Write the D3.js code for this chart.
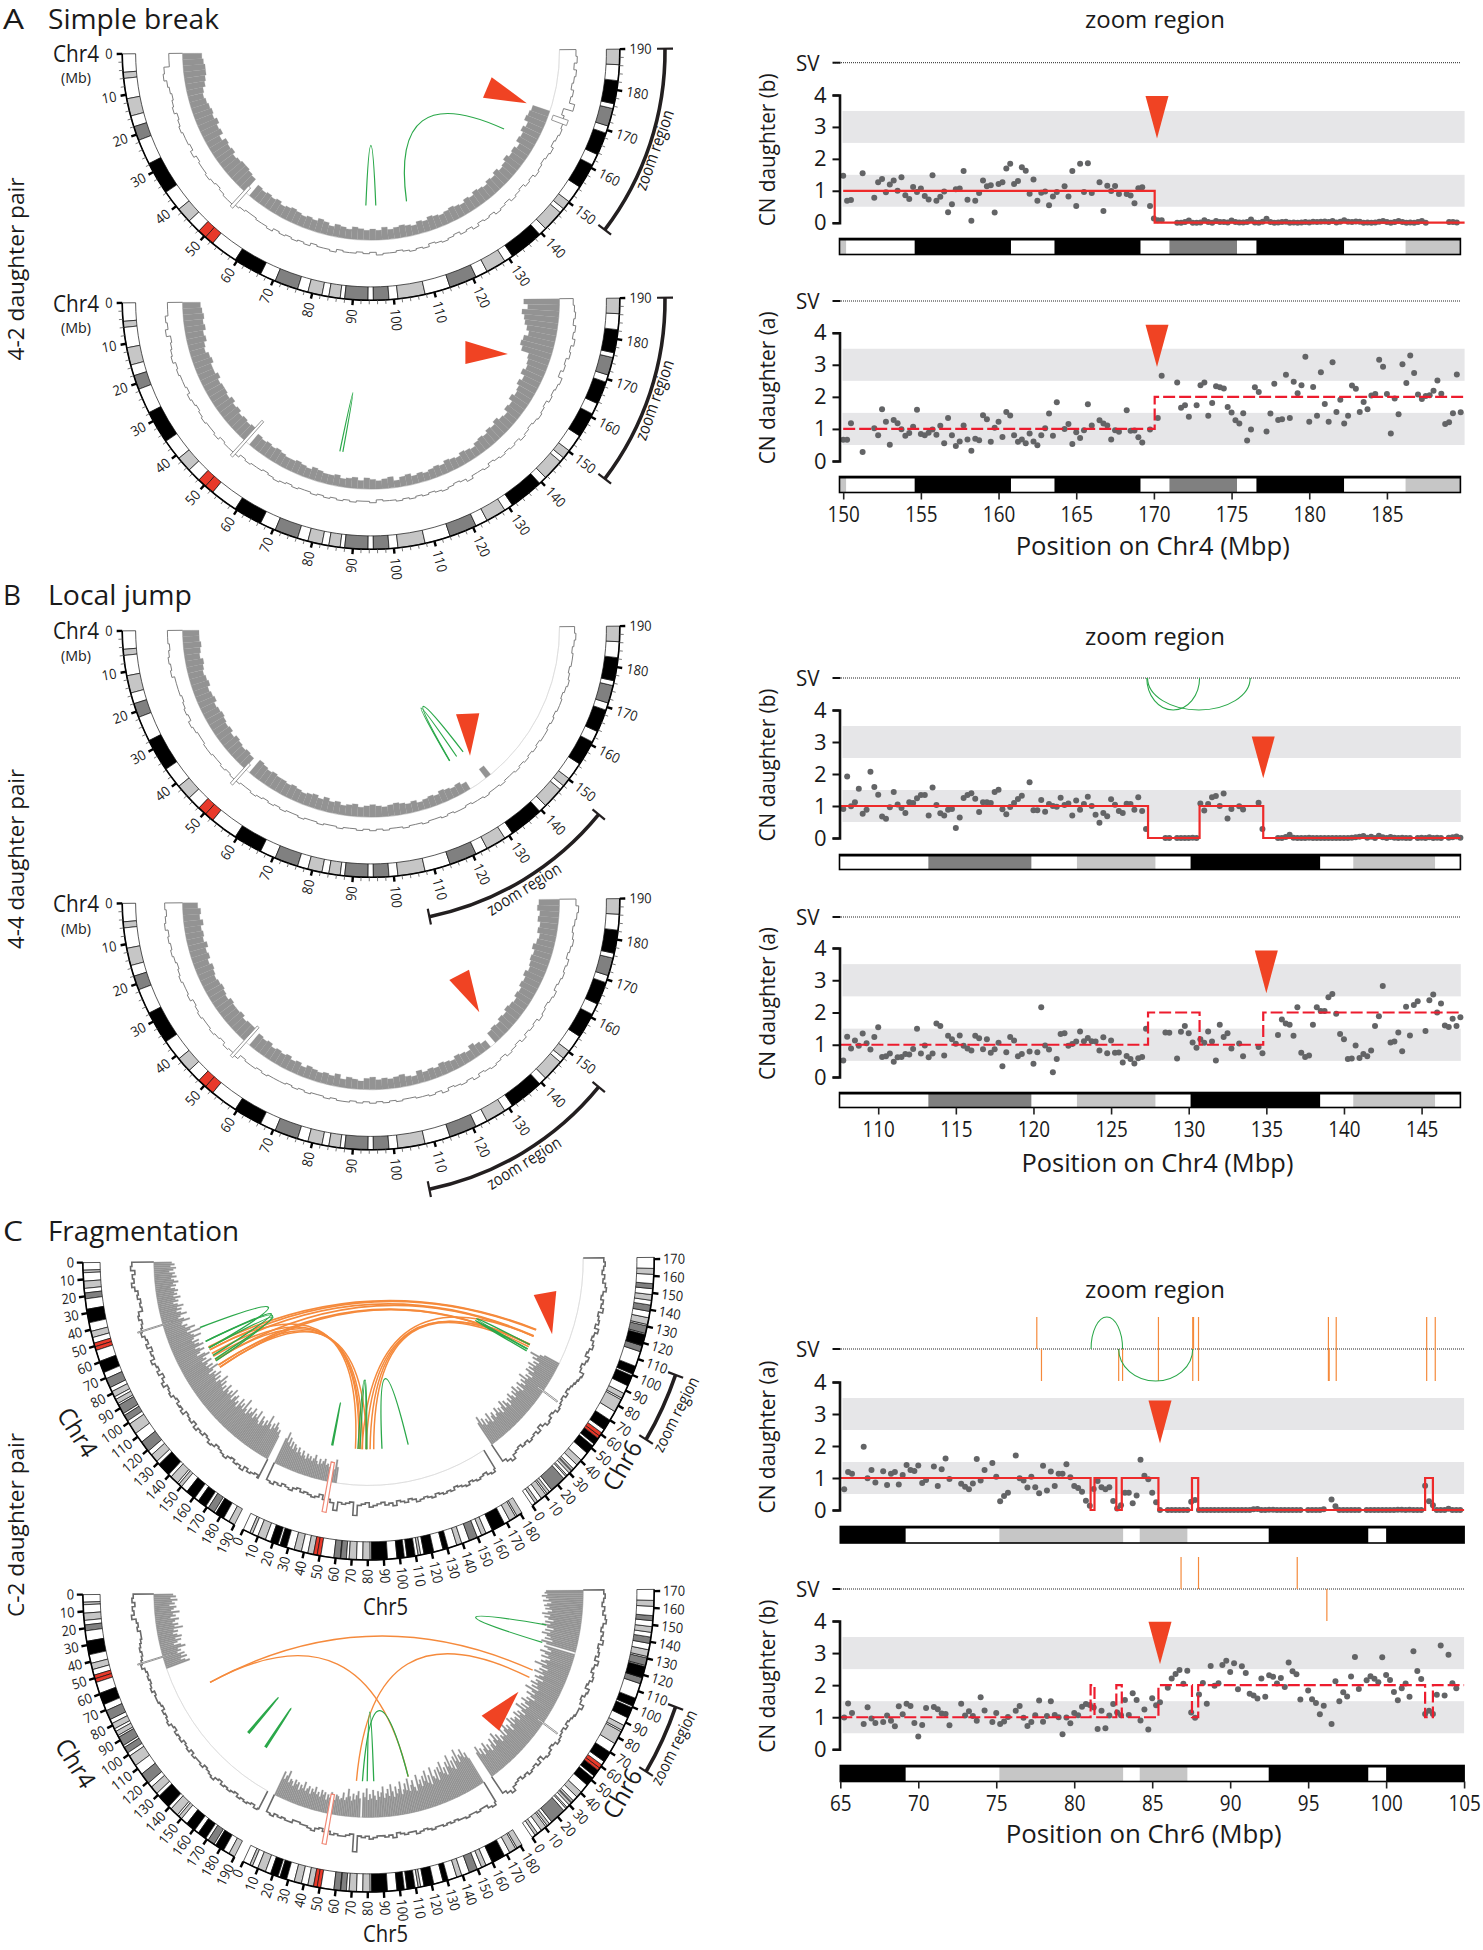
<!DOCTYPE html>
<html><head><meta charset="utf-8">
<script src="https://cdn.jsdelivr.net/npm/d3@7/dist/d3.min.js"></script>
<style>html,body{margin:0;padding:0;background:#fff}svg{display:block}text{font-family:"Open Sans",sans-serif;fill:#1a1a1a}</style>
</head><body><div id="c"></div>
<script>
// ---------- ideogram bands: start Mb, end Mb, stain ----------
const chr4Bands=[[0,4.5,'w'],[4.5,6,'l'],[6,11,'w'],[11,15.3,'l'],[15.3,18,'w'],[18,21.5,'m'],[21.5,27.7,'w'],[27.7,35.8,'k'],[35.8,41,'w'],[41,44.8,'l'],[44.8,48.2,'w'],[48.2,50.4,'r'],[50.4,52.7,'r'],[52.7,59.5,'w'],[59.5,66.6,'k'],[66.6,70.5,'w'],[70.5,76.3,'m'],[76.3,78.9,'w'],[78.9,82.4,'l'],[82.4,84.1,'w'],[84.1,86.9,'l'],[86.9,88,'w'],[88,93.7,'m'],[93.7,95,'w'],[95,98.8,'m'],[98.8,101,'w'],[101,107.7,'l'],[107.7,114,'w'],[114,120.8,'m'],[120.8,123.8,'w'],[123.8,128.8,'l'],[128.8,131,'w'],[131,139.5,'k'],[139.5,141.5,'w'],[141.5,146.8,'l'],[146.8,148,'w'],[148,150.2,'l'],[150.2,154.6,'w'],[154.6,160.8,'k'],[160.8,163.6,'w'],[163.6,169.2,'k'],[169.2,171,'w'],[171,175.4,'m'],[175.4,176.6,'w'],[176.6,182.3,'k'],[182.3,186.2,'w'],[186.2,190,'l']];
const chr5Bands=[[0,4.5,'w'],[4.5,6.3,'l'],[6.3,9.8,'w'],[9.8,15,'l'],[15,18.4,'w'],[18.4,23.3,'k'],[23.3,24.6,'w'],[24.6,28.9,'k'],[28.9,33.8,'w'],[33.8,38.4,'l'],[38.4,42.5,'w'],[42.5,46.1,'l'],[46.1,48.4,'r'],[48.4,50.7,'r'],[50.7,58.9,'w'],[58.9,62.9,'m'],[62.9,63.2,'w'],[63.2,66.7,'m'],[66.7,68.4,'w'],[68.4,73,'l'],[73,76.9,'w'],[76.9,81.5,'l'],[81.5,82.4,'w'],[82.4,92.3,'k'],[92.3,98.2,'w'],[98.2,102.8,'k'],[102.8,104.5,'w'],[104.5,109.6,'k'],[109.6,111.5,'w'],[111.5,113.1,'l'],[113.1,115.2,'w'],[115.2,121.4,'k'],[121.4,127.3,'w'],[127.3,130.6,'k'],[130.6,136.2,'w'],[136.2,139.5,'l'],[139.5,144.5,'w'],[144.5,149.8,'m'],[149.8,152.7,'w'],[152.7,155.7,'l'],[155.7,159.9,'w'],[159.9,168.5,'k'],[168.5,172.2,'w'],[172.2,176.5,'l'],[176.5,177.5,'w'],[177.5,181,'l']];
const chr6Bands=[[0,2.3,'w'],[2.3,4.2,'l'],[4.2,7.1,'w'],[7.1,10.6,'l'],[10.6,11.6,'w'],[11.6,13.4,'l'],[13.4,15.2,'w'],[15.2,25.2,'m'],[25.2,27,'w'],[27,28,'l'],[28,29.9,'w'],[29.9,31.6,'l'],[31.6,32.1,'w'],[32.1,33.5,'l'],[33.5,36.6,'w'],[36.6,40.5,'l'],[40.5,46,'w'],[46,51.5,'k'],[51.5,52.9,'w'],[52.9,57,'k'],[57,58.7,'r'],[58.7,61,'r'],[61,63.4,'w'],[63.4,70,'k'],[70,75.9,'w'],[75.9,83.9,'l'],[83.9,84.9,'w'],[84.9,88,'l'],[88,93.1,'w'],[93.1,99.5,'k'],[99.5,100.6,'w'],[100.6,105.5,'k'],[105.5,114.6,'w'],[114.6,118.3,'m'],[118.3,118.4,'w'],[118.4,125.1,'k'],[125.1,125.8,'w'],[125.8,130.3,'m'],[130.3,131.2,'w'],[131.2,135.2,'l'],[135.2,139,'w'],[139,142.8,'m'],[142.8,145.6,'w'],[145.6,149,'l'],[149,152.5,'w'],[152.5,155.5,'m'],[155.5,161,'w'],[161,164.5,'l'],[164.5,171,'w']];
const stripA=[[149.75,150.2,'l'],[150.2,154.6,'w'],[154.6,160.8,'k'],[160.8,163.6,'w'],[163.6,169.15,'k'],[169.15,171,'w'],[171,175.35,'m'],[175.35,176.6,'w'],[176.6,182.25,'k'],[182.25,186.2,'w'],[186.2,189.75,'l']];
const stripB=[[107.5,113.23,'w'],[113.23,119.88,'m'],[119.88,122.8,'w'],[122.8,127.87,'l'],[127.87,130.12,'w'],[130.12,138.48,'k'],[138.48,140.6,'w'],[140.6,145.88,'l'],[145.88,147.5,'w']];
const stripC=[[65,69.2,'k'],[69.2,75.2,'w'],[75.2,83.15,'l'],[83.15,84.2,'w'],[84.2,87.27,'l'],[87.27,92.47,'w'],[92.47,98.87,'k'],[98.87,100,'w'],[100,105,'k']];

// ---------- copy-number dots, one value per 0.25 Mb bin ----------
const cnA1=[1.47,.69,.71,null,null,1.55,null,null,.78,1.27,1.37,.95,1.2,1.32,1.0,1.42,.86,.74,1.12,.96,1.07,.84,.73,1.49,.69,.81,.98,.33,.58,1.05,1.07,1.62,.72,.06,.69,.93,1.32,1.14,1.17,.32,1.21,1.27,1.7,1.85,1.21,1.31,1.74,1.63,.91,1.35,.69,.94,.98,.55,.82,.96,null,1.14,.82,1.62,.52,1.85,.96,1.86,.93,null,1.27,.37,1.16,.99,1.15,.9,null,.9,.85,.61,1.08,1.11,null,.52,.13,.08,.08,null,null,null,0,0,.02,.07,0,0,.01,.08,.02,0,.05,.02,.02,.01,.07,.02,.01,.01,.02,.1,.01,0,.03,.12,.02,0,.01,.02,.03,0,.01,0,.01,.02,.01,.03,.02,.03,.04,.02,.05,.01,.03,.08,.03,.02,.04,.03,0,.01,0,.01,.03,.05,.02,0,.02,.05,.02,0,.01,0,.02,.05,0,null,null,null,null,null,.02,.02,.01];
const cnA2=[.66,.66,1.18,null,null,.28,null,null,1.02,.8,1.61,1.22,.51,1.28,1.18,.99,.79,.87,1.07,1.6,.84,.8,.88,.98,.82,1.1,.55,1.34,.8,.47,.61,1.11,.67,.32,.69,.65,1.43,1.3,.6,1.04,1.22,.75,1.53,1.42,.8,.6,.67,.55,.86,.61,.49,.8,1.02,1.48,.79,1.83,null,1.0,1.15,.53,.9,.72,.96,1.77,1.11,null,1.27,1.17,1.11,.67,.96,.91,null,1.58,.94,.95,.74,.58,null,.98,null,1.34,2.66,null,null,null,2.45,1.66,1.74,1.38,null,1.74,2.36,2.45,1.41,1.81,2.33,2.3,2.26,1.68,1.51,1.27,1.17,1.49,.64,.98,2.3,2.15,null,.92,1.48,2.41,1.28,1.3,2.69,1.34,2.47,2.11,2.36,3.25,1.22,2.31,1.41,2.77,1.78,1.22,3.08,1.53,1.91,1.17,1.41,2.35,2.25,1.53,1.84,1.61,2.04,2.09,3.16,2.94,2.09,.86,1.95,1.46,3.02,2.43,3.29,2.74,2.07,1.93,2.03,2.05,2.19,2.51,2.1,1.15,1.21,1.49,2.7,1.52];
const cnB1=[.91,1.92,.99,1.12,1.54,.76,.88,2.07,1.59,1.35,.67,.6,.96,1.44,1.05,.94,.78,1.12,1.09,1.24,1.34,1.34,.7,1.58,1.03,.77,.7,.88,.91,.31,.64,1.25,1.34,1.4,1.23,.81,1.12,1.12,1.09,1.44,1.51,.9,.74,.97,1.09,1.22,1.32,null,1.74,.87,.87,1.19,.82,1.06,1.0,.98,1.26,1.03,1.08,.7,1.17,.88,1.06,1.29,1.0,.73,.48,.78,.68,1.21,1.04,.84,.78,1.07,1.06,.88,1.27,.84,.28,null,null,null,null,0,0,null,0,0,0,0,.01,0,1.08,.86,1.06,1.27,1.31,1.0,1.39,.61,.91,null,.99,.89,null,null,null,1.1,.28,null,null,null,0,0,.03,.1,.01,0,0,0,.01,0,0,0,0,0,0,0,0,0,0,.01,.02,.04,.06,.01,.04,0,.07,.02,0,.03,.01,0,.01,0,0,null,0,.01,0,.02,0,.01,0,null,.01,.02,.05,.01];
const cnB2=[.51,1.25,.88,1.13,.97,1.35,1.05,.85,1.24,1.54,.62,.64,.73,.47,.61,.62,.71,.7,.87,1.5,.73,.98,.61,.73,1.66,1.58,.67,1.28,1.17,1.03,1.29,.97,.88,.82,1.28,1.2,.86,1.17,.75,.86,1.06,.33,.77,1.24,1.13,.64,.71,null,.79,.41,.77,2.16,.98,.85,.15,.56,1.33,1.36,.97,1.02,1.1,1.41,1.11,1.21,1.11,1.1,.82,1.23,.74,1.13,.75,.76,.45,.65,.56,.42,.58,.62,1.5,null,null,null,null,1.38,1.37,null,.57,1.4,1.58,1.36,1.07,.91,1.17,1.06,1.41,1.1,.51,1.62,1.24,1.36,.88,null,1.04,.64,null,null,null,.93,.74,null,null,null,1.3,1.78,1.66,1.62,1.28,2.16,.75,.62,.67,1.62,2.16,2.05,2.05,2.47,2.57,1.96,1.33,1.17,.56,.57,.98,.59,.71,.64,.82,1.58,1.88,2.82,null,1.07,1.1,1.38,.8,2.18,1.29,2.23,2.35,null,1.43,2.38,2.56,2.0,2.28,1.6,1.55,1.81,1.58,1.85];
const cnC1=[null,.65,1.19,1.13,null,null,1.98,.99,1.25,.86,null,1.21,.78,1.13,1.19,.8,1.09,1.41,1.25,1.22,1.39,.84,.94,null,1.36,.75,1.27,1.61,.97,null,null,.82,.73,.65,.83,1.59,.92,1.25,null,1.47,1.04,.27,.44,.54,null,1.7,.99,.92,.7,1.04,.71,.52,1.38,.61,1.2,.75,1.13,1.13,1.43,1.02,.75,.69,.57,.29,.13,.66,.91,.71,.65,.71,.28,.05,.15,.54,.54,.21,.45,1.57,1.07,.96,.54,.24,0,null,0,0,0,0,0,0,.26,.31,0,0,0,0,0,0,0,0,0,0,0,0,0,0,.02,.03,0,0,.01,.01,0,0,0,0,0,0,0,null,0,0,0,0,.02,null,.33,.12,0,0,0,0,0,0,null,0,0,0,0,0,0,0,0,.01,.01,0,.01,0,0,0,.76,.27,.15,0,0,0,.04,0,0,0];
const cnC2=[null,.99,1.43,1.13,null,null,.79,1.31,.96,.82,null,.85,1.05,.89,.72,1.34,1.09,1.42,1.35,.82,.4,.76,1.29,null,1.32,1.25,1.12,1.1,.75,null,null,1.42,1.05,1.19,1.04,.89,1.62,1.21,null,.85,1.13,.79,.87,1.01,null,1.2,1.35,.98,.73,.85,1.06,1.52,.86,1.04,1.5,1.07,1.0,.47,.99,.81,1.13,1.06,1.33,1.41,1.38,1.3,.63,1.2,.66,1.05,1.41,1.15,1.06,1.54,1.07,1.75,1.54,.9,1.24,.62,1.59,1.37,1.47,null,1.92,2.21,2.35,2.47,2.04,2.45,1.15,.98,1.71,2.07,1.42,2.6,1.98,2.06,2.63,2.76,2.41,2.68,1.87,2.59,2.38,1.73,1.68,1.58,2.21,1.64,2.31,2.26,2.05,2.22,1.94,2.71,2.43,2.34,1.55,null,1.83,1.56,1.44,1.09,1.36,null,.79,2.12,1.5,1.78,1.65,2.27,2.88,1.88,null,2.15,2.28,2.2,2.09,2.87,2.32,2.16,1.79,1.53,1.9,2.05,1.64,3.06,2.44,2.19,1.1,1.2,1.1,1.7,3.24,1.68,2.95,2.06,1.9];

// ---------- segmented copy number: breakpoints and levels ----------
const breaksA=[150,170.05,190.5], levelsA1=[1,0], levelsA2=[1,2];
const breaksB=[107.5,127.38,130.7,134.8,147.5], levelsB1=[1,0,1,0], levelsB2=[1,2,1,2];
const breaksC=[65,81.05,81.3,82.7,83.05,85.4,87.55,87.95,102.5,103,105], levelsC1=[1,0,1,0,1,0,1,0,1,0], levelsC2=[1,2,1,2,1,2,1,2,1,2];

// ---------- structural variants in the zoom strips ----------
const svC1Up=[77.6,85.4,87.6,87.65,87.97,96.3,96.8,102.6,103.15];
const svC1Down=[77.9,82.85,83.1,85.4,87.6,87.97,96.3,96.35,96.8,102.6,103.15];
const svC2Up=[86.85,87.97,94.3], svC2Down=[96.2];
const arcsC1Up=[[81.08,83.1]], arcsC1Down=[[82.85,87.6]], arcsB1Down=[[127.3,130.7],[127.35,133.96]];

// ---------- circular tracks: per-bin lengths ----------
const A1H=[14,15,16,16,15,14,12,11,12,13,14,13,15,13,14,11,14,13,14,12,13,14,14,13,12,0,10,9,10,9,10,8,9,10,9,8,9,8,10,9,7,9,8,7,9,8,7,8,7,9,7,8,9,8,7,9,8,10,9,8,9,10,9,8,10,9,11,10,9,11,10,12,10,11,13,11,12,10,13,12,14,12,15,14,13];
const A1S=[10,10,14,15,13,12,11,12,13,11,12,13,12,12,11,13,11,12,12,13,12,11,12,13,13,12,11,10,10,11,11,12,10,11,10,11,10,11,9,10,10,11,9,10,10,9,10,9,11,10,10,9,10,11,10,11,9,10,11,10,9,11,10,12,10,11,10,12,11,10,12,11,10,12,11,13,12,11,12,13,11,12,13,12,11,9,16,12,13,11,12,13,11,13,12];
const A2H=[13,14,15,14,15,13,14,12,11,13,14,12,12,14,12,13,13,12,14,12,13,11,12,11,12,0,10,9,10,9,10,9,8,8,9,8,7,9,8,7,7,8,6,7,8,6,8,7,6,7,8,5,7,8,6,7,6,7,8,7,9,8,7,9,8,7,9,10,9,11,10,12,10,9,12,11,14,12,13,15,13,16,14,15,16,22,24,23,20,22,24,25,27,23,26];
const A2S=[11,11,13,12,14,11,12,13,14,12,13,12,12,11,13,12,11,12,13,12,12,13,11,12,12,12,10,11,10,10,9,10,11,10,9,10,9,9,10,9,10,9,10,9,10,9,9,10,8,9,9,10,9,10,9,10,9,10,11,10,9,10,12,10,10,11,9,10,11,10,11,10,12,11,10,11,12,11,10,12,11,12,13,10,12,11,13,12,14,12,13,11,12,11,10];
const B1H=[12,12,13,12,11,13,12,11,12,13,11,12,13,11,12,13,12,11,12,10,12,11,10,11,10,0,12,11,10,11,10,10,9,10,9,8,9,10,8,10,8,9,7,8,9,7,8,9,8,7,8,9,8,7,8,6,7,8,7,9,8,7,8,6,0,0,0,8];
const B1S=[11,11,10,11,12,11,12,10,10,10,9,10,11,10,12,11,10,10,11,11,10,10,11,10,11,11,10,10,11,10,9,10,9,10,9,9,10,9,9,10,9,9,10,9,9,10,9,10,9,10,9,9,10,9,9,10,9,9,10,9,10,10,9,10,10,11,10,10,11,10,10,11,10,11,10,11,10,11,11,10,11,10,11,11,10,11,12,11,10,11,11,10,11,12,11];
const B2H=[11,13,12,14,12,13,12,14,12,13,11,13,12,11,12,13,12,11,13,12,12,13,11,12,12,0,11,10,11,9,10,9,10,8,9,7,9,8,7,8,7,9,6,8,7,6,8,9,7,8,7,8,9,7,6,9,7,8,7,9,8,7,9,8,7,10,8,6,0,9,10,9,11,10,12,11,10,12,11,13,12,14,12,13,14,13,15,13,12,14,13,15,14,16,15];
const B2S=[13,12,13,14,12,13,12,13,12,11,12,13,12,12,13,11,12,13,12,12,13,12,11,13,12,13,10,11,11,10,11,10,10,10,9,10,9,10,9,9,10,9,10,10,9,10,9,10,9,10,9,10,9,9,10,10,11,10,12,10,11,12,11,13,11,12,13,12,11,13,12,11,13,11,12,11,13,12,11,12,13,11,12,13,12,13,11,12,13,12,11,12,13,14,12];

const C1H4=[13,15,12,16,14,11,15,13,16,12,14,17,13,15,11,14,16,13,15,12,17,13,15,11,14,18,13,16,12,15,19,14,12,16,20,14,13,17,15,22,18,15,25,17,19,24,18,16,21,17,20,23,16,19,22,18,15,21,24,18,20,16,23,19,17,22,18,25,20,16,21,19,24,18,22,17,20,26,19,23,18,21,17,24,20,18,22,19,25,17,21,23,18,20,16,24,19,22,18,27,20,17,23,19,21,25,18,22,20,26,19,17,24,21,18,23,20,28,22,19,24,21,26,23,20,22,18];
const C1S4=[16,17,14,16,15,17,15,13,14,12,13,12,15,16,14,15,16,17,15,14,16,13,15,14,17,15,14,16,13,15,17,14,15,16,14,13,15,14,16,13,14,15,13,16,14,15,13,14,16,15,13,14,15,16,14,13,15,14,16,13,15,14,13,15];
const C1H5=[19,24,17,21,15,19,14,18,16,13,17,14,12,16,13,11,15,12,14,11,13,16,12,10,14,11,13,15,11,12,10,14,12,9,16,11];
const C1S5=[13,14,12,13,11,12,13,11,10,12,11,12,13,12,10,13,12,14,19,13,14,13,12,21,14,13,12,15,14,13,12,14,13,15,12,13,14,12,13,15,14,13,14,15,13,14,15,14,15,13,14,15,16,14,15,16,15,14,16,17,15];
const C1H6=[18,22,15,19,13,17,14,20,12,16,18,13,15,19,14,17,12,16,20,13,18,15,12,17,14,19,16,13,18,15,20,14,17,12,19,16,13,18,15,21,14,17,12,16,19,13,18,15,20,14,17,13,19,16,22,15,12];
const C1S6=[14,16,18,15,14,13,15,14,16,15,14,16,13,15,17,16,14,15,17,16,15,14,16,14,15,16,17,18,19,16,15,17,18,15,16,18,17,15,16,18,15,17,16,15,18,16,17,15,16,18,17,15,16,14,15,16,15];
const C2H4=[14,16,12,17,13,15,11,16,14,12,18,13,15,11,17,14,12,16,13,19,12,15,11,14,17,12,16,13,10,15,18,12,14,11,16,13,17,12,15,18];
const C2S4=[15,16,14,16,15,17,14,13,14,12,12,13,14,15,14,15,16,17,15,14,15,14,15,16,14,15,15,14,13,15,14,15,16,14,13,15,14,15,13,14,15,13,15,14,14,15,13,14,15,16,14,13,15,14,15,14,13,15,14,15,14,13,15,14];
const C2H5=[18,13,16,20,12,15,14,11,16,13,15,10,14,12,17,11,13,15,10,14,12,16,11,13,10,15,12,14,9,13,11,15,12,10,14,13,11,12,16,11,13,19,14,11,16,12,15,18,13,0,17,14,20,12,16,13,19,15,12,18,14,17,21,13,16,19,14,22,17,13,20,15,18,23,14,17,21,16,24,15,19,22,17,14,25,18,21,16,23,19,26,17,22,15,27,20,18,24,16,25,21,28,19,23,17,26,22,30,20,25,18,27,23,31,21,26,24,29,22,25,20];
const C2S5=[13,14,12,13,12,13,13,11,11,12,12,13,14,12,11,13,12,14,13,14,14,13,12,24,13,14,13,15,14,13,13,14,13,15,12,13,14,13,13,15,14,13,14,15,14,14,15,14,15,14,15,15,16,15,15,16,15,15,17,18,16];
const C2H6=[20,24,17,21,15,19,23,16,20,14,18,22,15,19,24,17,21,14,18,16,22,15,19,25,17,20,14,18,23,16,21,18,19,15,22,17,20,14,18,24,16,21,15,19,23,17,20,14,18,22,16,19,25,15,21,17,23,18,20,15,22,19,16,24,18,21,15,20,26,17,22,19,16,23,18,21,25,17,20,23,0,22,26,18,24,20,23,27,21,25,19,24,28,22,26,20,24,27,23,29,25,22,27,24,28,26,23,29,25,27,30,26,28,27];
const C2S6=[14,16,18,15,14,13,15,14,16,15,14,16,13,16,17,16,14,15,17,16,15,14,16,14,15,16,17,17,19,16,15,17,18,15,16,18,17,15,16,18,15,17,16,15,18,16,17,15,16,18,17,15,16,14,15,16,15];

// ---------- links between positions ----------
const linksA1=[[92.4,96.3],[108.5,157.5]];
const linksA2=[[82.1,83.3]];
const linksB1=[[126.8,130.1],[126.9,133.2]];
const orangeC146=[[83,103.15],[86,102.6],[90,96.8],[97,96.3],[102.5,87.97],[105,87.6]];
const orangeC145=[[86,67.6],[93,70.7],[97,74.5],[105,78.8],[102.5,72]];
const orangeC156=[[74,96.3],[78,87.97],[82,87.6],[85.6,85.4]];
const greenC14=[[63,84],[77,92],[77,98],[84,96]];
const greenC15a=[[44,45]], greenC15b=[[70,78],[72,78.8],[93.7,119.8]];
const greenC16=[[81.08,83.1],[82.85,87.6]];
const orangeC246=[[86.5,94.3]], orangeC245=[[86.5,119.8]], orangeC256=[[68.6,86.85]];
const greenC24=[[146.5,148],[168,169.5]], greenC25=[[74.5,119.8],[79.2,85.6]], greenC26=[[121.9,138.7]];

// ---------- canvas ----------
const W=1483,H=1950;
const svg=d3.select('#c').append('svg').attr('width',W).attr('height',H).attr('viewBox',`0 0 ${W} ${H}`);
const FILL={w:'#fff',l:'#c6c6c6',m:'#808080',k:'#000',r:'#e8392a'};
const RED='#f04323',ORANGE='#f58a3c',GREEN='#2ba84a';
function txt(x,y,s,o={}){
  const t=svg.append('text').attr('text-anchor',o.anchor||'start').attr('font-size',o.size||14).text(s);
  t.attr('transform',`translate(${x},${y}) rotate(${o.rot||0}) scale(${o.sx||1},1)`);
  if(o.len){t.attr('textLength',o.len).attr('lengthAdjust','spacingAndGlyphs');}
  return t;
}

// ---------- right-hand zoom panels ----------
function panel(p){
  const g=svg.append('g');
  const x=d3.scaleLinear().domain(p.dom).range(p.xr);
  const y=d3.scaleLinear().domain([0,4]).range([p.y0,p.y4]);
  const xEnd=p.bandEnd;
  [[2.5,3.5],[.5,1.5]].forEach(b=>g.append('rect').attr('x',842.5).attr('width',xEnd-842.5).attr('y',y(b[1])).attr('height',y(b[0])-y(b[1])).attr('fill','#e6e6e8'));
  g.append('line').attr('x1',833).attr('x2',p.stx1).attr('y1',p.sv).attr('y2',p.sv).attr('stroke','#222').attr('stroke-width',1).attr('stroke-dasharray','1 1');
  g.append('line').attr('x1',832.5).attr('x2',840.5).attr('y1',p.sv).attr('y2',p.sv).attr('stroke','#111').attr('stroke-width',2);
  txt(819.5,p.sv+8,'SV',{anchor:'end',size:21,sx:.98}).attr('fill','#333');
  (p.up||[]).forEach(v=>g.append('line').attr('x1',x(v)).attr('x2',x(v)).attr('y1',p.sv-32).attr('y2',p.sv).attr('stroke',ORANGE).attr('stroke-width',1.2));
  (p.down||[]).forEach(v=>g.append('line').attr('x1',x(v)).attr('x2',x(v)).attr('y1',p.sv).attr('y2',p.sv+32).attr('stroke',ORANGE).attr('stroke-width',1.2));
  const arc=(a,sw)=>{const x0=x(a[0]),x1=x(a[1]);g.append('path').attr('d',`M${x0},${p.sv}A${(x1-x0)/2},32 0 0 ${sw} ${x1},${p.sv}`).attr('fill','none').attr('stroke',GREEN).attr('stroke-width',1.1);};
  (p.arcUp||[]).forEach(a=>arc(a,1));
  (p.arcDown||[]).forEach(a=>arc(a,0));
  g.append('g').selectAll('circle').data(p.cn.map((v,i)=>({v,i})).filter(d=>d.v!==null)).join('circle')
    .attr('cx',d=>x(p.start+d.i*.25)).attr('cy',d=>y(d.v)).attr('r',3).attr('fill','#636466');
  const pts=[];p.levels.forEach((l,i)=>{pts.push([Math.max(p.breaks[i],p.dom[0]),l]);pts.push([Math.min(p.breaks[i+1],p.dom[1]),l]);});
  const ln=g.append('path').attr('d',d3.line().x(d=>x(d[0])).y(d=>y(d[1]))(pts)).attr('fill','none').attr('stroke',p.dash?'#ed1c2e':'#ee2a2a').attr('stroke-width',2.2);
  if(p.dash)ln.attr('stroke-dasharray','12 4');
  const tip=[x(p.arrow[0]),y(p.arrow[1])],top=y(p.arrow[2]);
  g.append('path').attr('d',`M${tip[0]-11.5},${top}L${tip[0]+11.5},${top}L${tip[0]},${tip[1]}Z`).attr('fill',RED);
  const ya=d3.axisLeft(y).tickValues([0,1,2,3,4]).tickSize(7).tickPadding(6).tickFormat(d3.format('d'));
  const yg=g.append('g').attr('transform','translate(839.5,0)').call(ya);
  yg.select('.domain').attr('stroke','#111').attr('stroke-width',2.6);
  yg.selectAll('.tick line').attr('stroke','#111').attr('stroke-width',2);
  yg.selectAll('text').attr('font-size',22).attr('fill','#333').attr('font-family','"Open Sans",sans-serif');
  txt(775,(p.y0+p.y4)/2-9,p.ylab,{anchor:'middle',size:22,rot:-90,len:153});
  const st=g.append('g');
  p.strip.forEach(b=>st.append('rect').attr('x',x(b[0])).attr('y',p.st0).attr('width',x(b[1])-x(b[0])).attr('height',p.st1-p.st0).attr('fill',FILL[b[2]]));
  st.append('rect').attr('x',p.stx0).attr('y',p.st0).attr('width',p.stx1-p.stx0).attr('height',p.st1-p.st0).attr('fill','none').attr('stroke','#000').attr('stroke-width',1.6);
  st.append('line').attr('x1',p.stx0).attr('x2',p.stx1).attr('y1',p.st0+1).attr('y2',p.st0+1).attr('stroke','#000').attr('stroke-width',2);
  if(p.xt){
    const xa=d3.axisBottom(x).tickValues(p.xt).tickSize(7).tickPadding(8).tickFormat(d3.format('d'));
    const xg=g.append('g').attr('transform',`translate(0,${p.st1})`).call(xa);
    xg.select('.domain').remove();
    xg.selectAll('.tick line').attr('stroke','#222').attr('stroke-width',1.6);
    xg.selectAll('text').attr('font-size',21).attr('fill','#333').attr('font-family','"Open Sans",sans-serif').attr('transform','scale(.9,1)').attr('dy','.71em');
    txt(p.xlx,p.xly,p.xlab,{anchor:'middle',size:26,len:p.xllen});
  }
  if(p.title)txt(1155,p.title,'zoom region',{anchor:'middle',size:24,len:140});
}
const aDom=[150,190],aR=[843.2,1464.6],bDom=[107.5,147.5],bR=[839.4,1460.4],cDom=[65,105],cR=[840.3,1464.1];
panel({dom:aDom,xr:aR,bandEnd:1464.6,y0:222.7,y4:95,sv:62.7,cn:cnA1,start:150,breaks:breaksA,levels:levelsA1,arrow:[170.2,2.64,3.97],ylab:'CN daughter (b)',strip:stripA,st0:238.5,st1:254.5,stx0:839.5,stx1:1460.4,title:28});
panel({dom:aDom,xr:aR,bandEnd:1464.6,y0:461,y4:332.7,sv:301,cn:cnA2,start:150,breaks:breaksA,levels:levelsA2,dash:true,arrow:[170.2,2.93,4.25],ylab:'CN daughter (a)',strip:stripA,st0:476.5,st1:492.5,stx0:839.5,stx1:1460.4,xt:[150,155,160,165,170,175,180,185],xlab:'Position on Chr4 (Mbp)',xlx:1152.7,xly:555,xllen:274});
panel({dom:bDom,xr:bR,bandEnd:1460.8,y0:838,y4:710,sv:678,cn:cnB1,start:107.75,breaks:breaksB,levels:levelsB1,arrow:[134.8,1.87,3.17],ylab:'CN daughter (b)',strip:stripB,st0:854.5,st1:869.5,stx0:839.5,stx1:1460.4,title:645,arcDown:arcsB1Down});
panel({dom:bDom,xr:bR,bandEnd:1460.8,y0:1077,y4:948,sv:917,cn:cnB2,start:107.75,breaks:breaksB,levels:levelsB2,dash:true,arrow:[135,2.6,3.92],ylab:'CN daughter (a)',strip:stripB,st0:1092.5,st1:1107.5,stx0:839.5,stx1:1460.4,xt:[110,115,120,125,130,135,140,145],xlab:'Position on Chr4 (Mbp)',xlx:1157.4,xly:1172,xllen:272});
panel({dom:cDom,xr:cR,bandEnd:1464.1,y0:1510,y4:1382,sv:1349,cn:cnC1,start:65,breaks:breaksC,levels:levelsC1,arrow:[85.5,2.08,3.42],ylab:'CN daughter (a)',strip:stripC,st0:1526.5,st1:1543,stx0:840.3,stx1:1464.1,title:1298,up:svC1Up,down:svC1Down,arcUp:arcsC1Up,arcDown:arcsC1Down});
panel({dom:cDom,xr:cR,bandEnd:1464.1,y0:1749.3,y4:1621,sv:1589,cn:cnC2,start:65,breaks:breaksC,levels:levelsC2,dash:true,arrow:[85.5,2.65,3.98],ylab:'CN daughter (b)',strip:stripC,st0:1765.5,st1:1781.5,stx0:840.3,stx1:1464.1,up:svC2Up,down:svC2Down,xt:[65,70,75,80,85,90,95,100,105],xlab:'Position on Chr6 (Mbp)',xlx:1143.7,xly:1843,xllen:276});

// ---------- circular ideograms ----------
const deg=Math.PI/180, TRK=1.375;
function circos(c){
  const G=svg.append('g').attr('transform',`translate(${c.cx},${c.cy}) scale(1,${c.k})`);
  const pt=(a,r)=>[c.cx+r*Math.sin(a),c.cy-c.k*r*Math.cos(a)];
  c.chrs.forEach(ch=>{
    ch.ang=d3.scaleLinear().domain([0,ch.len]).range([(-90-ch.t0)*deg,(-90-ch.t1)*deg]);
    const A=ch.ang, arc=d3.arc();
    const rH=d3.scaleLinear().domain([0,40]).range([c.rBase,c.rBase-40*TRK]);
    const rS=d3.scaleLinear().domain([0,40]).range([c.rBase,c.rBase+40*TRK]);
    G.append('path').attr('d',arc({innerRadius:c.rBase,outerRadius:c.rBase,startAngle:A(0),endAngle:A(ch.len)})).attr('fill','none').attr('stroke','#d8d8d8').attr('stroke-width',.6).attr('vector-effect','non-scaling-stroke');
    G.append('g').selectAll('path').data(ch.hist.map((v,i)=>({v,i})).filter(d=>d.v>0)).join('path')
      .attr('d',d=>arc({innerRadius:rH(d.v),outerRadius:rH(0),startAngle:A(d.i*ch.hbin),endAngle:A(Math.min((d.i+1)*ch.hbin,ch.len))}))
      .attr('fill','#939393').attr('stroke','#939393').attr('stroke-width',.2).attr('vector-effect','non-scaling-stroke');
    const pts=[[A(0),rS(0)]];
    ch.step.forEach((v,i)=>{pts.push([A(i*ch.bin),rS(v)]);pts.push([A(Math.min((i+1)*ch.bin,ch.len)),rS(v)]);});
    pts.push([A(ch.len),rS(0)]);
    G.append('path').attr('d',d3.lineRadial().angle(d=>d[0]).radius(d=>d[1])(pts)).attr('fill','none').attr('stroke',c.stepCol).attr('stroke-width',c.stepW).attr('vector-effect','non-scaling-stroke');
    G.append('g').selectAll('path').data(ch.bands).join('path')
      .attr('d',b=>arc({innerRadius:c.rIn,outerRadius:c.rOut,startAngle:A(b[0]),endAngle:A(b[1])}))
      .attr('fill',b=>FILL[b[2]]).attr('stroke','#111').attr('stroke-width',.7).attr('vector-effect','non-scaling-stroke');
    G.append('path').attr('d',arc({innerRadius:c.rOut,outerRadius:c.rOut,startAngle:A(0),endAngle:A(ch.len)})).attr('fill','none').attr('stroke','#000').attr('stroke-width',1.6).attr('vector-effect','non-scaling-stroke');
    if(c.minor)d3.range(0,ch.len+.1,c.minor).forEach(v=>{
      const p0=pt(A(v),c.rOut),p1=pt(A(v),c.rOut+4);
      svg.append('line').attr('x1',p0[0]).attr('y1',p0[1]).attr('x2',p1[0]).attr('y2',p1[1]).attr('stroke','#555').attr('stroke-width',.8);
    });
    const T=svg.append('g');
    T.selectAll('line').data(d3.range(0,ch.len+.1,10)).join('line')
      .attr('x1',v=>pt(A(v),c.rOut)[0]).attr('y1',v=>pt(A(v),c.rOut)[1])
      .attr('x2',v=>pt(A(v),c.rOut+c.tick)[0]).attr('y2',v=>pt(A(v),c.rOut+c.tick)[1])
      .attr('stroke','#000').attr('stroke-width',2.4);
    d3.range(0,ch.len+.1,10).forEach(v=>{
      const a=A(v),p=pt(a,c.rLab);
      const dx=Math.sin(a),dy=-c.k*Math.cos(a);
      let rot=Math.atan2(dy,dx)/deg,anchor='start';
      if(dx<0){rot+=180;anchor='end';}
      txt(p[0]-4.8*Math.sin(rot*deg),p[1]+4.8*Math.cos(rot*deg),d3.format('d')(v),{anchor,size:14,rot,sx:.92}).attr('fill','#111');
    });
  });
  const byName=n=>c.chrs.find(h=>h.name===n);
  (c.slits||[]).forEach(s=>{
    const A=byName(s[0]).ang;
    G.append('path').attr('d',d3.arc()({innerRadius:s[2],outerRadius:s[3],startAngle:A(s[1]-s[4]),endAngle:A(s[1]+s[4])})).attr('fill','#fff').attr('stroke',s[5]||'#8a8a8a').attr('stroke-width',s[5]?1.2:.9).attr('vector-effect','non-scaling-stroke');
  });
  (c.links||[]).forEach(L=>{
    const Aa=byName(L.from).ang,Ab=byName(L.to).ang;
    L.data.forEach(d=>{
      const p0=pt(Aa(d[0]),c.rLink),p1=pt(Ab(d[1]),c.rLink);
      const mx=(p0[0]+p1[0])/2,my=(p0[1]+p1[1])/2;
      const qx=mx+(c.cx-mx)*L.f,qy=my+(c.cy-my)*L.f;
      const path=d3.path();path.moveTo(p0[0],p0[1]);path.quadraticCurveTo(qx,qy,p1[0],p1[1]);
      svg.append('path').attr('d',path.toString()).attr('fill','none').attr('stroke',L.col).attr('stroke-width',L.w||1.2);
    });
  });
  svg.append('polygon').attr('points',c.arrow.map(q=>q.join(',')).join(' ')).attr('fill',RED);
  if(c.zoom){
    const z=c.zoom,A=byName(z.chr).ang;
    G.append('path').attr('d',d3.arc()({innerRadius:z.r,outerRadius:z.r,startAngle:A(z.from),endAngle:A(z.to)})).attr('fill','none').attr('stroke','#231f20').attr('stroke-width',3.6).attr('vector-effect','non-scaling-stroke');
    [z.from,z.to].forEach(v=>{
      const p0=pt(A(v),z.r-8),p1=pt(A(v),z.r+8);
      svg.append('line').attr('x1',p0[0]).attr('y1',p0[1]).attr('x2',p1[0]).attr('y2',p1[1]).attr('stroke','#231f20').attr('stroke-width',2.2);
    });
    txt(z.tx,z.ty,'zoom region',{anchor:'middle',size:z.ts||17,rot:z.rot,len:z.len||84});
  }
}
const chr4Only=(h,s)=>[{name:'4',len:190,t0:.55,t1:180.55,bands:chr4Bands,hist:h,step:s,bin:2,hbin:2}];
const base={cx:371,k:1,rIn:235.4,rOut:248.8,rBase:188.5,rLab:258.5,rLink:154,tick:5.5,minor:2,stepCol:'#7e7e7e',stepW:1};
const zoomA={chr:'4',r:294,from:190,to:150,rot:-70};
const zoomB={chr:'4',r:294,from:148,to:106.5,rot:-32};
circos({...base,cy:51.5,chrs:chr4Only(A1H,A1S),slits:[['4',50.2,182,209,.5],['4',168.3,193,209,.8]],
  links:[{from:'4',to:'4',data:linksA1,f:.78,col:GREEN}],arrow:[[491.7,77.3],[483,97.7],[526.8,103.3]],zoom:{...zoomA,tx:660,ty:152}});
circos({...base,cy:300.5,chrs:chr4Only(A2H,A2S),slits:[['4',50.2,162,209,.45]],
  links:[{from:'4',to:'4',data:linksA2,f:.78,col:GREEN}],arrow:[[465.4,341],[465.4,364],[507.9,354]],zoom:{...zoomA,tx:660,ty:402}});
circos({...base,cy:628.5,chrs:chr4Only(B1H,B1S),slits:[['4',50.2,182,209,.45]],
  links:[{from:'4',to:'4',data:linksB1,f:.78,col:GREEN}],arrow:[[456,714.3],[479.3,713.3],[470,755.7]],zoom:{...zoomB,tx:527,ty:894}});
circos({...base,cy:901,chrs:chr4Only(B2H,B2S),slits:[['4',50.2,169,209,.45]],
  arrow:[[469,969.7],[449.3,980],[479.3,1012.3]],zoom:{...zoomB,tx:527,ty:1168}});

const baseC={cx:368.5,k:1.05,rIn:268.4,rOut:285.7,rBase:214.7,rLab:294.5,rLink:180.3,tick:6,minor:0,stepCol:'#6a6a6a',stepW:1.6};
const chrsC=(h4,s4,h5,s5,h6,s6)=>[
 {name:'4',len:190,t0:.5,t1:62,bands:chr4Bands,hist:h4,step:s4,bin:3,hbin:1.5},
 {name:'5',len:181,t0:64,t1:122.5,bands:chr5Bands,hist:h5,step:s5,bin:3,hbin:1.5},
 {name:'6',len:171,t0:125,t1:180.5,bands:chr6Bands,hist:h6,step:s6,bin:3,hbin:1.5}];
const slitsC=[['4',50,205,241,.4],['6',60,208,232,.5],['5',48,196,244,1.5,'#f08a78']];
const zoomC={chr:'6',r:326,from:72,to:109,rot:-63,ts:16.5,len:82};
circos({...baseC,cy:1260,chrs:chrsC(C1H4,C1S4,C1H5,C1S5,C1H6,C1S6),slits:slitsC,
  links:[{from:'4',to:'6',data:orangeC146,f:.95,col:ORANGE,w:1.7},{from:'4',to:'5',data:orangeC145,f:.95,col:ORANGE,w:1.5},{from:'5',to:'6',data:orangeC156,f:.95,col:ORANGE,w:1.5},
   {from:'4',to:'4',data:greenC14,f:.78,col:GREEN,w:1.4},{from:'5',to:'5',data:greenC15a,f:.46,col:GREEN,w:1.4},{from:'5',to:'5',data:greenC15b,f:.73,col:GREEN,w:1.3},{from:'6',to:'6',data:greenC16,f:.65,col:GREEN,w:1.4}],
  arrow:[[533.7,1295],[556.3,1291],[552.1,1334.3]],zoom:{...zoomC,tx:681,ty:1417}});
circos({...baseC,cy:1592,chrs:chrsC(C2H4,C2S4,C2H5,C2S5,C2H6,C2S6),slits:slitsC,
  links:[{from:'4',to:'6',data:orangeC246,f:.95,col:ORANGE,w:1.4},{from:'4',to:'5',data:orangeC245,f:.95,col:ORANGE,w:1.4},{from:'5',to:'6',data:orangeC256,f:.95,col:ORANGE,w:1.4},
   {from:'4',to:'4',data:greenC24,f:.5,col:GREEN,w:1.5},{from:'5',to:'5',data:greenC25,f:.73,col:GREEN,w:1.3},{from:'6',to:'6',data:greenC26,f:.78,col:GREEN,w:1.2}],
  arrow:[[518.5,1691.7],[481.6,1715.7],[499.1,1730.7]],zoom:{...zoomC,tx:679,ty:1750}});

// ---------- headings and chromosome names ----------
txt(3,29,'A',{size:27,len:21});txt(48,29,'Simple break',{size:27,len:171});
txt(3,605,'B',{size:28,len:18});txt(48,605,'Local jump',{size:28,len:144});
txt(3,1241,'C',{size:28,len:20});txt(48,1241,'Fragmentation',{size:28,len:191});
txt(24,269,'4-2 daughter pair',{anchor:'middle',size:22,rot:-90,len:183});
txt(24,859,'4-4 daughter pair',{anchor:'middle',size:22,rot:-90,len:180});
txt(24,1525,'C-2 daughter pair',{anchor:'middle',size:22,rot:-90,len:184});
[[62,83],[312,333],[639,661],[912,934]].forEach(d=>{
  txt(53,d[0],'Chr4',{size:24,len:46});
  txt(61,d[1],'(Mb)',{size:15,len:30}).attr('fill','#444');
});
[[70,1437,630,1470,385.5,1615],[68,1768,630,1798,385.5,1942]].forEach(d=>{
  txt(d[0],d[1],'Chr4',{anchor:'middle',size:25,rot:58,len:53});
  txt(d[2],d[3],'Chr6',{anchor:'middle',size:25,rot:-60,len:53});
  txt(d[4],d[5],'Chr5',{anchor:'middle',size:23,len:45});
});
</script></body></html>
